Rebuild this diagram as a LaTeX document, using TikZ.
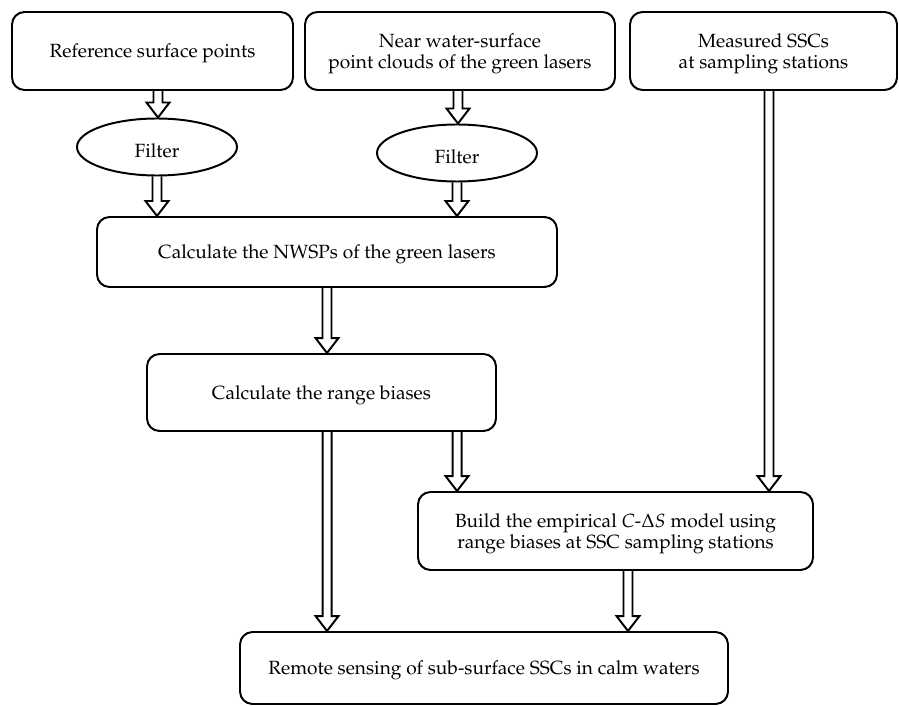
\documentclass[tikz,border=0pt]{standalone}
\usepackage[T1]{fontenc}
\usepackage{mathpazo}
\usetikzlibrary{shapes.geometric,calc}
\def\pxu{0.56pt}
\tikzset{
  box/.style={draw, rounded corners=7pt, line width=1.1pt, align=center, inner sep=2pt, text depth=-2pt, font=\fontsize{10.7}{11.4}\selectfont},
  filt/.style={draw, ellipse, line width=1.1pt, minimum width=160*\pxu, minimum height=57*\pxu, inner sep=0pt, text height=12pt, text depth=0pt, font=\fontsize{10.7}{11.4}\selectfont},
  fat/.style={line width=1.1pt, to path={
    let \p1=(\tikztostart), \p2=(\tikztotarget) in
    (\x1-4.5*\pxu,\y1) -- (\x1-4.5*\pxu,\y2+15*\pxu) -- (\x1-11.5*\pxu,\y2+15*\pxu)
    -- (\x1,\y2) -- (\x1+11.5*\pxu,\y2+15*\pxu) -- (\x1+4.5*\pxu,\y2+15*\pxu) -- (\x1+4.5*\pxu,\y1)}}
}
\begin{document}
\begin{tikzpicture}[x=\pxu, y=-\pxu]
  \useasboundingbox (0,0) rectangle (899,706);

  % Nodes
  \node (ref) [box, minimum width=281*\pxu, minimum height=78*\pxu] at (152.5,51) {Reference surface points};
  \node (near) [box, minimum width=310*\pxu, minimum height=78*\pxu] at (460,51) {Near water-surface\\point clouds of the green lasers};
  \node (ssc) [box, minimum width=267*\pxu, minimum height=78*\pxu] at (763.5,51) {Measured SSCs\\at sampling stations};
  \node (f1) [filt] at (157,147) {Filter};
  \node (f2) [filt] at (457,153) {Filter};
  \node (nwsp) [box, minimum width=460*\pxu, minimum height=70*\pxu] at (327,252) {Calculate the NWSPs of the green lasers};
  \node (rng) [box, minimum width=349*\pxu, minimum height=77*\pxu] at (321.5,392.5) {Calculate the range biases};
  \node (build) [box, minimum width=395*\pxu, minimum height=78*\pxu] at (615.5,531) {Build the empirical $C$-$\Delta S$ model using\\range biases at SSC sampling stations};
  \node (rem) [box, minimum width=488*\pxu, minimum height=72*\pxu] at (484,668) {Remote sensing of sub-surface SSCs in calm waters};
  \coordinate (r1) at ($(rng.south west)+(181,0)$);
  \coordinate (r2) at ($(rng.south west)+(311,0)$);

  % Edges
  \draw[fat] ([xshift=5.5*\pxu]ref.south) to (f1.north);
  \draw[fat] (f1.south) to (nwsp.north);
  \draw[fat] ([xshift=-2*\pxu]near.south) to (f2.north);
  \draw[fat] (f2.south) to (nwsp.north);
  \draw[fat] (nwsp.south) to (rng.north);
  \draw[fat] (r1) to (rem.north);
  \draw[fat] (r2) to (build.north);
  \draw[fat] ([xshift=5.5*\pxu]ssc.south) to (build.north);
  \draw[fat] ([xshift=12.5*\pxu]build.south) to (rem.north);
\end{tikzpicture}
\end{document}
